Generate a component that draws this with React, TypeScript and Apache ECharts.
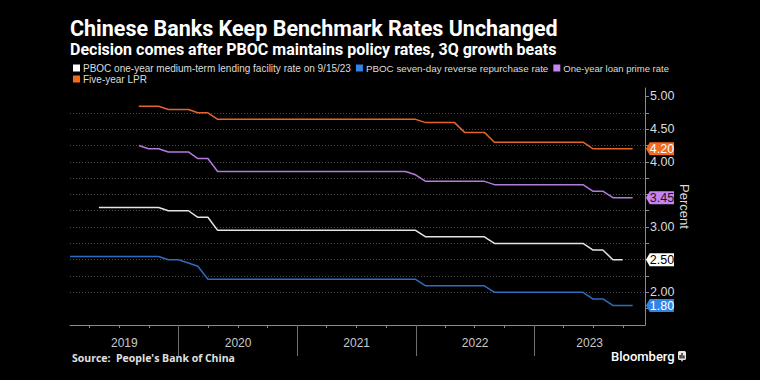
import React, { useEffect, useRef } from "react";
import * as echarts from "echarts";

// Month-end observations, first entry = January 2019, last = October 2023
const START_YEAR = 2019;
const START_MONTH = 0;

const MLF_1Y = [
  null, null, null, 3.3, 3.3, 3.3, 3.3, 3.3, 3.3, 3.3,
  3.25, 3.25, 3.25, 3.15, 3.15, 2.95, 2.95, 2.95, 2.95, 2.95,
  2.95, 2.95, 2.95, 2.95, 2.95, 2.95, 2.95, 2.95, 2.95, 2.95,
  2.95, 2.95, 2.95, 2.95, 2.95, 2.95, 2.85, 2.85, 2.85, 2.85,
  2.85, 2.85, 2.85, 2.75, 2.75, 2.75, 2.75, 2.75, 2.75, 2.75,
  2.75, 2.75, 2.75, 2.65, 2.65, 2.5, 2.5, null,
];
const REPO_7D = [
  2.55, 2.55, 2.55, 2.55, 2.55, 2.55, 2.55, 2.55, 2.55, 2.55,
  2.5, 2.5, 2.45, 2.4, 2.2, 2.2, 2.2, 2.2, 2.2, 2.2,
  2.2, 2.2, 2.2, 2.2, 2.2, 2.2, 2.2, 2.2, 2.2, 2.2,
  2.2, 2.2, 2.2, 2.2, 2.2, 2.2, 2.1, 2.1, 2.1, 2.1,
  2.1, 2.1, 2.1, 2.0, 2.0, 2.0, 2.0, 2.0, 2.0, 2.0,
  2.0, 2.0, 2.0, 1.9, 1.9, 1.8, 1.8, 1.8,
];
const LPR_1Y = [
  null, null, null, null, null, null, null, 4.25, 4.2, 4.2,
  4.15, 4.15, 4.15, 4.05, 4.05, 3.85, 3.85, 3.85, 3.85, 3.85,
  3.85, 3.85, 3.85, 3.85, 3.85, 3.85, 3.85, 3.85, 3.85, 3.85,
  3.85, 3.85, 3.85, 3.85, 3.85, 3.8, 3.7, 3.7, 3.7, 3.7,
  3.7, 3.7, 3.7, 3.65, 3.65, 3.65, 3.65, 3.65, 3.65, 3.65,
  3.65, 3.65, 3.65, 3.55, 3.55, 3.45, 3.45, 3.45,
];
const LPR_5Y = [
  null, null, null, null, null, null, null, 4.85, 4.85, 4.85,
  4.8, 4.8, 4.8, 4.75, 4.75, 4.65, 4.65, 4.65, 4.65, 4.65,
  4.65, 4.65, 4.65, 4.65, 4.65, 4.65, 4.65, 4.65, 4.65, 4.65,
  4.65, 4.65, 4.65, 4.65, 4.65, 4.65, 4.6, 4.6, 4.6, 4.6,
  4.45, 4.45, 4.45, 4.3, 4.3, 4.3, 4.3, 4.3, 4.3, 4.3,
  4.3, 4.3, 4.3, 4.2, 4.2, 4.2, 4.2, 4.2,
];

const SERIES_NAMES = [
  "PBOC one-year medium-term lending facility rate on 9/15/23",
  "PBOC seven-day reverse repurchase rate",
  "One-year loan prime rate",
  "Five-year LPR",
];
const YEARS = [2019, 2020, 2021, 2022, 2023];
const Y_LABELS = [2.0, 2.5, 3.0, 3.5, 4.0, 4.5, 5.0];
const Y_TICKS = [1.75, 2.0, 2.25, 2.5, 2.75, 3.0, 3.25, 3.5, 3.75, 4.0, 4.25, 4.5, 4.75, 5.0];

const X_MIN = new Date(2019, 0, 31).getTime();
const X_MAX = new Date(2023, 11, 8).getTime();

const LINE_COLORS = ["#e4e4e4", "#2f6cc0", "#b47ade", "#e4652c"];
const TAG_COLORS = ["#ffffff", "#2f84e6", "#c883f2", "#f4691c"];
const TAG_TEXT = ["#000000", "#ffffff", "#1a1a1a", "#ffffff"];
const LEGEND_COLORS = ["#ffffff", "#2f84e6", "#c883f2", "#f4691c"];
const LEGEND_FONT_SIZES = [10, 9.8, 9.5, 10];

const monthEnd = (i: number) =>
  new Date(START_YEAR, START_MONTH + i + 1, 0).getTime();

export default function App() {
  const ref = useRef<HTMLDivElement>(null);

  useEffect(() => {
    document.body.style.margin = "0";
    document.body.style.background = "#000";
    if (!ref.current) return;
    const chart = echarts.init(ref.current, undefined, { renderer: "svg" });

    const allValues = [MLF_1Y, REPO_7D, LPR_1Y, LPR_5Y];

    const quarterTicks: number[] = [];
    YEARS.forEach((y) => {
      [0, 3, 6, 9].forEach((m) => {
        const t = new Date(y, m, 1).getTime();
        if (t > X_MIN && t < X_MAX) quarterTicks.push(t);
      });
    });
    const yearStarts = YEARS.slice(1).map((y) => new Date(y, 0, 1).getTime());
    const bounds = [X_MIN, ...yearStarts, X_MAX];
    const yearLabelPos = YEARS.map((_, i) => (bounds[i] + bounds[i + 1]) / 2);

    const lastValues = allValues.map((vals) => {
      let lastIdx = vals.length - 1;
      while (lastIdx >= 0 && vals[lastIdx] == null) lastIdx--;
      return vals[lastIdx] as number;
    });
    // axis labels hidden beneath a value tag
    const visibleYLabels = Y_LABELS.filter(
      (v) => !lastValues.some((lv) => Math.abs(lv - v) < 0.1)
    );

    const series: any[] = allValues.map((vals, si) => {
      const lastVal = lastValues[si];
      return {
        name: SERIES_NAMES[si],
        type: "line",
        xAxisIndex: 0,
        data: vals.map((v, i) => [monthEnd(i), v]),
        showSymbol: false,
        symbol: "none",
        clip: false,
        lineStyle: { color: LINE_COLORS[si], width: 1.5 },
        itemStyle: { color: LEGEND_COLORS[si] },
        z: 3 + si,
        markPoint: {
          symbol: "path://M0,6 L4,0 L30,0 L30,12 L4,12 Z",
          symbolSize: [28, 13],
          symbolOffset: [15, 0],
          silent: true,
          z: 10,
          itemStyle: { color: TAG_COLORS[si] },
          label: {
            show: true,
            position: "inside",
            offset: [2, 0.5],
            color: TAG_TEXT[si],
            fontSize: 12.5,
            fontFamily: "Liberation Sans",
            formatter: () => lastVal.toFixed(2),
          },
          data: [{ coord: [X_MAX, lastVal], value: lastVal }],
        },
      };
    });

    const legendText = {
      color: "#dcdcdc",
      fontSize: 10,
      fontFamily: "Liberation Sans",
      padding: [0, 0, 0, -2],
    };
    const legendItem = (i: number) => ({
      name: SERIES_NAMES[i],
      itemStyle: { color: LEGEND_COLORS[i] },
      textStyle: { fontSize: LEGEND_FONT_SIZES[i] },
    });

    chart.setOption({
      animation: false,
      backgroundColor: "#000000",
      textStyle: { fontFamily: "Liberation Sans" },
      grid: { left: 70, right: 115, top: 88, bottom: 55 },
      legend: [
        {
          left: 73,
          top: 63,
          itemWidth: 7,
          itemHeight: 7,
          itemGap: 5,
          icon: "rect",
          padding: 0,
          data: [0, 1, 2].map(legendItem),
          textStyle: legendText,
        },
        {
          left: 73,
          top: 74,
          itemWidth: 7,
          itemHeight: 7,
          icon: "rect",
          padding: 0,
          data: [3].map(legendItem),
          textStyle: legendText,
        },
      ],
      graphic: [
        {
          type: "text",
          left: 70,
          top: 17,
          style: {
            text: "Chinese Banks Keep Benchmark Rates Unchanged",
            fill: "#ffffff",
            font: "bold 21.5px Roboto",
            lineHeight: 22,
          },
        },
        {
          type: "text",
          left: 70,
          top: 41,
          style: {
            text: "Decision comes after PBOC maintains policy rates, 3Q growth beats",
            fill: "#ffffff",
            font: "bold 16px Roboto",
            lineHeight: 16,
          },
        },
        {
          type: "text",
          left: 72,
          top: 352,
          style: {
            text: "Source:  People's Bank of China",
            fill: "#e0e0e0",
            font: "bold 10.5px 'Open Sans'",
          },
        },
        {
          type: "text",
          left: 611,
          top: 350,
          style: {
            text: "Bloomberg",
            fill: "#ffffff",
            font: "500 13px Roboto",
          },
        },
        {
          type: "group",
          left: 678,
          top: 351,
          children: [
            { type: "rect", shape: { x: 0, y: 0, width: 8, height: 9, r: 1.5 }, style: { fill: "#e8e8e8" } },
            { type: "rect", shape: { x: 1.5, y: 4, width: 1.2, height: 3.5 }, style: { fill: "#000" } },
            { type: "rect", shape: { x: 3.4, y: 2, width: 1.2, height: 5.5 }, style: { fill: "#000" } },
            { type: "rect", shape: { x: 5.3, y: 4.5, width: 1.2, height: 3 }, style: { fill: "#000" } },
            { type: "polygon", shape: { points: [[3, 9], [5, 9], [4, 11]] }, style: { fill: "#e8e8e8" } },
          ],
        },
      ],
      xAxis: [
        {
          type: "value",
          min: X_MIN,
          max: X_MAX,
          axisLine: { show: true, onZero: false, lineStyle: { color: "#8c8c8c", width: 1 } },
          axisTick: {
            show: true,
            length: 3,
            customValues: quarterTicks,
            lineStyle: { color: "#8c8c8c" },
          },
          axisLabel: {
            show: true,
            customValues: yearLabelPos,
            color: "#c8c8c8",
            fontSize: 12,
            margin: 12,
            formatter: (v: number) => String(new Date(v).getFullYear()),
          },
          splitLine: { show: false },
        },
        {
          type: "value",
          min: X_MIN,
          max: X_MAX,
          position: "bottom",
          axisLine: { show: false, onZero: false },
          axisTick: {
            show: true,
            length: 31,
            customValues: yearStarts,
            lineStyle: { color: "#6e6e6e" },
          },
          axisLabel: { show: false },
          splitLine: { show: false },
        },
      ],
      yAxis: {
        type: "value",
        position: "right",
        min: 1.5,
        max: 5.13,
        interval: 0.5,
        z: 1,
        name: "Percent",
        nameLocation: "middle",
        nameRotate: -90,
        nameGap: 33,
        nameMoveOverlap: false,
        nameTextStyle: { color: "#dcdcdc", fontSize: 13, fontFamily: "Liberation Sans" },
        axisLine: { show: true, lineStyle: { color: "#8c8c8c" } },
        axisTick: {
          show: true,
          length: 4,
          customValues: Y_TICKS,
          lineStyle: { color: "#8c8c8c" },
        },
        axisLabel: {
          show: true,
          customValues: visibleYLabels,
          color: "#dcdcdc",
          fontSize: 12.5,
          margin: 5,
          formatter: (v: number) => v.toFixed(2),
        },
        splitLine: {
          show: true,
          showMinLine: false,
          showMaxLine: false,
          lineStyle: { color: "#4a4a4a", type: [1, 2], width: 1 },
        },
      },
      series,
    });

    return () => chart.dispose();
  }, []);

  return <div ref={ref} style={{ width: 760, height: 380 }} />;
}
